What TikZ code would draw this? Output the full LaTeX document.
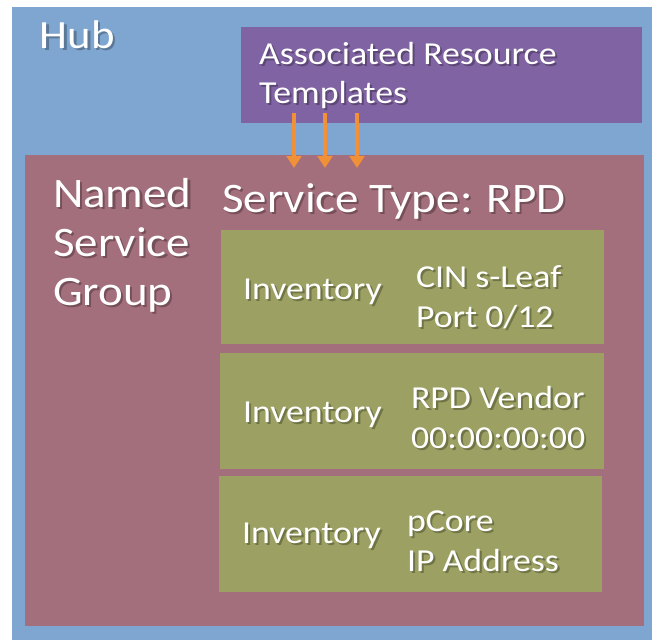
\documentclass[tikz,border=0pt]{standalone}
\usepackage{fontspec}
\setmainfont{Carlito}[FakeStretch=1.12]
\usetikzlibrary{arrows.meta}
\definecolor{hubblue}{RGB}{126,166,208}
\definecolor{tplpurple}{RGB}{128,99,162}
\definecolor{grpred}{RGB}{164,111,124}
\definecolor{invgreen}{RGB}{156,161,99}
\definecolor{arrorange}{RGB}{240,145,58}
% white text with a soft drop shadow in a darker tone of the background
\newcommand\shl[2]{\makebox[0pt][l]{\kern1.6pt\raisebox{-2.2pt}{\textcolor{#1!72!black}{#2}}}#2}
\begin{document}
\begin{tikzpicture}[x=0.75pt,y=-0.75pt,
  box/.style={draw=none,inner sep=0pt,outer sep=0pt,anchor=north west},
  lbl/.style={inner sep=0pt,outer sep=0pt,anchor=base west,text=white,align=left},
  bigfont/.style={font=\fontsize{31.5}{36.75}\selectfont},
  hubfont/.style={font=\fontsize{30}{34}\selectfont},
  smallfont/.style={font=\fontsize{24}{30}\selectfont},
  feed/.style={draw=arrorange,line width=3.4pt,-{Triangle[width=11pt,length=9pt]}}]
\useasboundingbox (0,0) rectangle (652,640);
\fill[white] (0,0) rectangle (652,640);
% boxes
\node[box,fill=hubblue,minimum width=640*0.75pt,minimum height=633*0.75pt] (hub) at (12,7) {};
\node[box,fill=tplpurple,minimum width=401*0.75pt,minimum height=96*0.75pt] (tpl) at (241,27) {};
\node[box,fill=grpred,minimum width=619*0.75pt,minimum height=471*0.75pt] (grp) at (25,155) {};
\node[box,fill=invgreen,minimum width=383*0.75pt,minimum height=114*0.75pt] (inv1) at (221,230) {};
\node[box,fill=invgreen,minimum width=384*0.75pt,minimum height=116*0.75pt] (inv2) at (220,353) {};
\node[box,fill=invgreen,minimum width=383*0.75pt,minimum height=116*0.75pt] (inv3) at (219,476) {};
% texts (multi-line nodes are placed at the baseline of their last line)
\node[lbl,hubfont] (hubt) at (40,48) {\shl{hubblue}{Hub}};
\node[lbl,font=\fontsize{24}{29.25}\selectfont] (tplt) at (259,103) {\shl{tplpurple}{Associated Resource}\\\shl{tplpurple}{Templates}};
\node[lbl,bigfont] (grpt) at (53,305) {\shl{grpred}{Named}\\\shl{grpred}{Service}\\\shl{grpred}{Group}};
\node[lbl,bigfont] (stype) at (222,212) {\shl{grpred}{Service Type: RPD}};
\node[lbl,smallfont] (i1) at (243,299) {\shl{invgreen}{Inventory}};
\node[lbl,smallfont] (d1) at (416,327) {\shl{invgreen}{CIN s-Leaf}\\\shl{invgreen}{Port 0/12}};
\node[lbl,smallfont] (i2) at (243,422) {\shl{invgreen}{Inventory}};
\node[lbl,smallfont] (d2) at (411,448) {\shl{invgreen}{RPD Vendor}\\\shl{invgreen}{00:00:00:00}};
\node[lbl,smallfont] (i3) at (242,543) {\shl{invgreen}{Inventory}};
\node[lbl,smallfont] (d3) at (407,571) {\shl{invgreen}{pCore}\\\shl{invgreen}{IP Address}};
% arrows
\coordinate (a1s) at (294,113); \coordinate (a1e) at (294,168);
\coordinate (a2s) at (325,113); \coordinate (a2e) at (325,168);
\coordinate (a3s) at (357,113); \coordinate (a3e) at (357,168);
\draw[feed] (a1s) -- (a1e);
\draw[feed] (a2s) -- (a2e);
\draw[feed] (a3s) -- (a3e);
\end{tikzpicture}
\end{document}
